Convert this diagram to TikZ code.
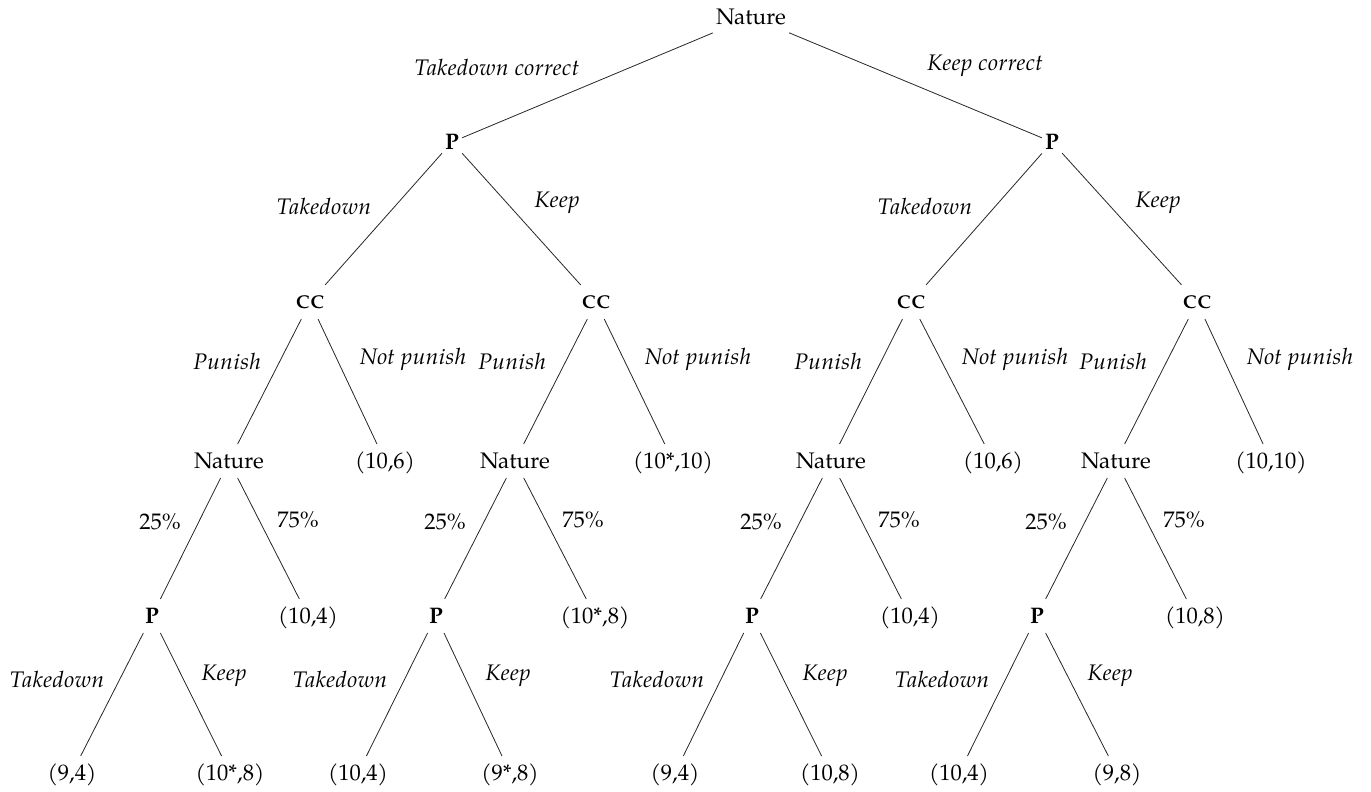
\documentclass[tikz,border=0pt]{standalone}
\usepackage{fontspec}
\setmainfont{TeX Gyre Pagella}
\begin{document}
\begin{tikzpicture}[x=1pt,y=-1pt,
  every node/.style={font=\fontsize{22.5}{27}\selectfont, text height=15.5pt, text depth=0pt, inner xsep=3pt, inner ysep=9pt},
  lbl/.style={font=\fontsize{22.5}{27}\selectfont\itshape\addfontfeatures{LetterSpace=2.2}, inner sep=0pt},
  pct/.style={font=\fontsize{22.5}{27}\selectfont, inner sep=0pt},
  pl/.style={font=\fontsize{22.5}{27}\selectfont\bfseries},
  cc/.style={font=\fontsize{18.5}{22}\selectfont\bfseries, text height=12.8pt, inner ysep=10.5pt},
  edge/.style={line width=0.8pt, black!85}]
\useasboundingbox (0,0) rectangle (1371,792);
% level 0
\node (root) at (751,17) {Nature};
% level 1
\node[pl] (PL) at (452,142) {P};
\node[pl] (PR) at (1052,142) {P};
% level 2
\node[cc] (C1) at (310,302) {C\kern1.2pt C};
\node[cc] (C2) at (596,302) {C\kern1.2pt C};
\node[cc] (C3) at (911,302) {C\kern1.2pt C};
\node[cc] (C4) at (1197,302) {C\kern1.2pt C};
% level 3
\node (N1) at (229,461) {Nature};
\node (N2) at (515,461) {Nature};
\node (N3) at (831,461) {Nature};
\node (N4) at (1116,461) {Nature};
\node (L1) at (385,461) {(10,6)};
\node (L2) at (673,461) {(10*,10)};
\node (L3) at (993,461) {(10,6)};
\node (L4) at (1271,461) {(10,10)};
% level 4
\node[pl] (P1) at (152,616) {P};
\node[pl] (P2) at (436,616) {P};
\node[pl] (P3) at (752,616) {P};
\node[pl] (P4) at (1037,616) {P};
\node (M1) at (308,616) {(10,4)};
\node (M2) at (595,616) {(10*,8)};
\node (M3) at (910,616) {(10,4)};
\node (M4) at (1195,616) {(10,8)};
% level 5
\node (T1) at (72,773) {(9,4)};
\node (K1) at (230,773) {(10*,8)};
\node (T2) at (358,773) {(10,4)};
\node (K2) at (510,773) {(9*,8)};
\node (T3) at (675,773) {(9,4)};
\node (K3) at (830,773) {(10,8)};
\node (T4) at (959,773) {(10,4)};
\node (K4) at (1117,773) {(9,8)};
% edges
\draw[edge] (root) -- (PL);
\draw[edge] (root) -- (PR);
\draw[edge] (PL) -- (C1);
\draw[edge] (PL) -- (C2);
\draw[edge] (PR) -- (C3);
\draw[edge] (PR) -- (C4);
\draw[edge] (C1) -- (N1); \draw[edge] (C1) -- (L1);
\draw[edge] (C2) -- (N2); \draw[edge] (C2) -- (L2);
\draw[edge] (C3) -- (N3); \draw[edge] (C3) -- (L3);
\draw[edge] (C4) -- (N4); \draw[edge] (C4) -- (L4);
\draw[edge] (N1) -- (P1); \draw[edge] (N1) -- (M1);
\draw[edge] (N2) -- (P2); \draw[edge] (N2) -- (M2);
\draw[edge] (N3) -- (P3); \draw[edge] (N3) -- (M3);
\draw[edge] (N4) -- (P4); \draw[edge] (N4) -- (M4);
\draw[edge] (P1) -- (T1); \draw[edge] (P1) -- (K1);
\draw[edge] (P2) -- (T2); \draw[edge] (P2) -- (K2);
\draw[edge] (P3) -- (T3); \draw[edge] (P3) -- (K3);
\draw[edge] (P4) -- (T4); \draw[edge] (P4) -- (K4);
% edge labels
\node[lbl] (la) at (497,68) {Takedown correct};
\node[lbl] (lb) at (985,63) {Keep correct};
\node[lbl] (lc1) at (324,207) {Takedown};
\node[lbl] (lc2) at (557,200) {Keep};
\node[lbl] (lc3) at (925,207) {Takedown};
\node[lbl] (lc4) at (1158,200) {Keep};
\node[lbl] (pu1) at (227,362) {Punish};
\node[lbl] (np1) at (413,357) {Not punish};
\node[lbl] (pu2) at (512,362) {Punish};
\node[lbl] (np2) at (698,357) {Not punish};
\node[lbl] (pu3) at (828,362) {Punish};
\node[lbl] (np3) at (1015,357) {Not punish};
\node[lbl] (pu4) at (1113,362) {Punish};
\node[lbl] (np4) at (1300,357) {Not punish};
\node[pct] (q1) at (160,522) {25\%};
\node[pct] (r1) at (298,520) {75\%};
\node[pct] (q2) at (445,522) {25\%};
\node[pct] (r2) at (583,520) {75\%};
\node[pct] (q3) at (761,522) {25\%};
\node[pct] (r3) at (899,520) {75\%};
\node[pct] (q4) at (1046,522) {25\%};
\node[pct] (r4) at (1184,520) {75\%};
\node[lbl] (t1) at (57,680) {Takedown};
\node[lbl] (k1) at (224,673) {Keep};
\node[lbl] (t2) at (340,680) {Takedown};
\node[lbl] (k2) at (508,673) {Keep};
\node[lbl] (t3) at (657,680) {Takedown};
\node[lbl] (k3) at (825,673) {Keep};
\node[lbl] (t4) at (942,680) {Takedown};
\node[lbl] (k4) at (1110,673) {Keep};
\end{tikzpicture}
\end{document}
